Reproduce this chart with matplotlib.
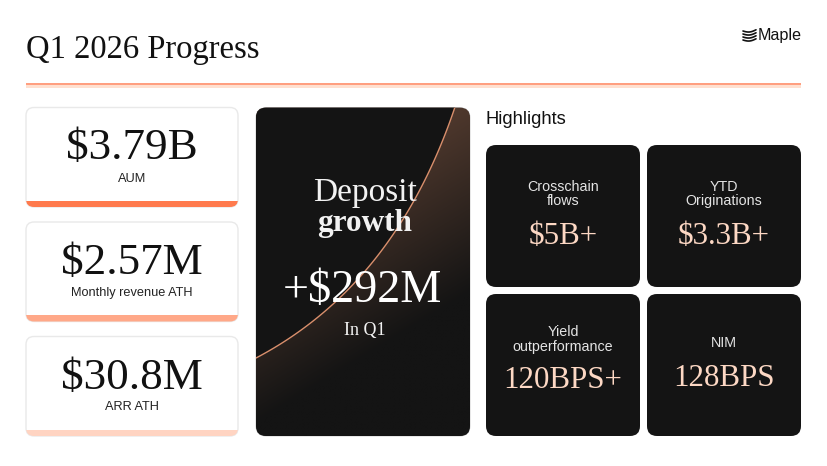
import numpy as np
import matplotlib
matplotlib.use("Agg")
import matplotlib.pyplot as plt
from matplotlib.patches import FancyBboxPatch, Rectangle, Polygon
from matplotlib.colors import LinearSegmentedColormap

title = "Q1 2026 Progress"
logo_text = "Maple"
stat_values = ["$3.79B", "$2.57M", "$30.8M"]
stat_labels = ["AUM", "Monthly revenue ATH", "ARR ATH"]
stat_colors = ["#ff7a4d", "#ffa888", "#ffd4c2"]
panel_lines = ["Deposit", "growth"]
panel_value = "+$292M"
panel_note = "In Q1"
highlights_title = "Highlights"
highlight_labels = ["Crosschain\nflows", "YTD\nOriginations", "Yield\noutperformance", "NIM"]
highlight_values = ["$5B+", "$3.3B+", "120BPS+", "128BPS"]

SERIF = "Liberation Serif"
SANS = "Liberation Sans"
DARK = "#141414"
PEACH = "#fdd8c4"

plt.rcParams["font.family"] = SERIF

fig = plt.figure(figsize=(8.28, 4.66), dpi=100)
ax = fig.add_axes([0, 0, 1, 1])
ax.set_xlim(0, 828)
ax.set_ylim(466, 0)
ax.axis("off")


def round_box(x0, y0, x1, y1, r, **kw):
    p = FancyBboxPatch((x0 + r, y0 + r), x1 - x0 - 2 * r, y1 - y0 - 2 * r,
                       boxstyle="round,pad=%s,rounding_size=%s" % (r, r), **kw)
    ax.add_patch(p)
    return p


ax.text(26, 49.5, title, fontsize=23.5, color="#111111", va="center", ha="left")

# header rule
ax.add_patch(Rectangle((26, 85), 775, 3.2, color="#ffe0d0", lw=0))
ax.add_patch(Rectangle((26, 83), 775, 1.6, color="#ff9f80", lw=0))

# logo
ax.text(801.5, 35.5, logo_text, family=SANS, fontsize=11.6, color="#111111",
        va="center", ha="right")
for yy in [31, 34, 37, 40]:
    xs = np.linspace(743, 756, 20)
    ax.plot(xs, yy + 1.6 * np.sin((xs - 743) / 13 * np.pi) - 1.2 * (xs - 743) / 13,
            color="#111111", lw=1.2, solid_capstyle="round")

# left cards
card_tops = [107.5, 222, 336.5]
for top, val, lab, col in zip(card_tops, stat_values, stat_labels, stat_colors):
    bottom = top + 99.5
    round_box(26, top, 238, bottom, 8, fc="white", ec="#e9e9e9", lw=1, zorder=1)
    clip = round_box(26, top, 238, bottom, 8, fc="none", ec="none")
    bar = Rectangle((26, bottom - 6.5), 212, 6.5, color=col, lw=0, zorder=2)
    ax.add_patch(bar)
    bar.set_clip_path(clip)
    ax.text(132, top + 41, val, fontsize=32.5, color="#111111", ha="center", va="center")
    ax.text(132, top + 71, lab, family=SANS, fontsize=9.2, color="#222222", ha="center", va="center")

# dark panel
px0, py0, px1, py1 = 256, 107.7, 470, 436
round_box(px0, py0, px1, py1, 10, fc=DARK, ec="#c8c8c8", lw=0.6, zorder=1)
clip = round_box(px0, py0, px1, py1, 10, fc="none", ec="none")

# gradient runs from the top right corner down to the left
gx, gy = np.meshgrid(np.linspace(px0, px1, 200), np.linspace(py0, py1, 300))
grad = np.clip((124000 - (130 * gx + 214 * gy)) / 39800, 0, 1)
cmap = LinearSegmentedColormap.from_list("panel", [DARK, "#4d372c"])
im = ax.imshow(grad, extent=(px0, px1, py1, py0), cmap=cmap, vmin=0, vmax=1,
               aspect="auto", zorder=2, interpolation="bilinear")
im.set_clip_path(clip)
ax.set_xlim(0, 828)
ax.set_ylim(466, 0)

t = np.linspace(0, 1, 120)
p0, p1, p2 = (256, 358), (395, 285), (455, 107)
cx = (1 - t) ** 2 * p0[0] + 2 * t * (1 - t) * p1[0] + t ** 2 * p2[0]
cy = (1 - t) ** 2 * p0[1] + 2 * t * (1 - t) * p1[1] + t ** 2 * p2[1]
cover = Polygon(np.vstack([np.column_stack([cx, cy]), [[256, 107]]]), fc=DARK, ec="none", zorder=3)
ax.add_patch(cover)
cover.set_clip_path(clip)
ln, = ax.plot(cx, cy, color="#d98f6c", lw=1.0, zorder=4)
ln.set_clip_path(clip)

ax.text(365, 193, panel_lines[0], fontsize=24, color="#f2f2f2", ha="center", va="center", zorder=5)
ax.text(365, 223, panel_lines[1], fontsize=22.5, fontweight="bold", color="#f2f2f2",
        ha="center", va="center", zorder=5)
ax.text(362.5, 290.5, panel_value, fontsize=33.3, color="white", ha="center", va="center", zorder=5)
ax.text(365, 331, panel_note, fontsize=13, color="#f2f2f2", ha="center", va="center", zorder=5)

# highlights
ax.text(486, 119, highlights_title, family=SANS, fontsize=13.2, color="#111111", ha="left", va="center")
boxes = [(486, 145, 640, 287), (647, 145, 801, 287), (486, 294, 640, 436), (647, 294, 801, 436)]
label_y = [194, 194, 339.5, 343]
value_y = [237, 237, 381, 379]
for b, lab, val, ly, vy in zip(boxes, highlight_labels, highlight_values, label_y, value_y):
    round_box(*b, 10, fc=DARK, ec="none", zorder=1)
    xc = (b[0] + b[2]) / 2
    ax.text(xc, ly, lab, family=SANS, fontsize=10.3, color="#e4e4e4", ha="center", va="center",
            linespacing=1.05, zorder=5)
    ax.text(xc, vy, val, fontsize=22.3, color=PEACH, ha="center", va="center", zorder=5)

fig.savefig("out.png", dpi=100)
